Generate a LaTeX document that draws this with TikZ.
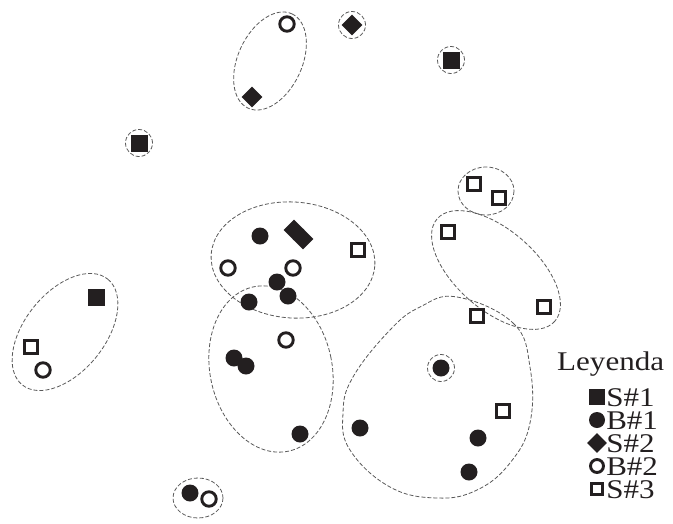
\documentclass[tikz,border=0pt]{standalone}
\usepackage{fontspec}
\setmainfont{Liberation Serif}
\usetikzlibrary{shapes.geometric}
\definecolor{ink}{RGB}{35,31,32}
\tikzset{
  bsq/.style={rectangle, fill=ink, draw=none, minimum size=17pt, inner sep=0pt},
  bci/.style={circle, fill=ink, draw=none, minimum size=17pt, inner sep=0pt},
  dia/.style={diamond, fill=ink, draw=none, minimum size=21pt, inner sep=0pt},
  oci/.style={circle, draw=ink, fill=white, line width=2.9pt, minimum size=14.5pt, inner sep=0pt},
  osq/.style={rectangle, draw=ink, fill=white, line width=2.8pt, minimum size=12.5pt, inner sep=0pt},
  grp/.style={draw=black!65, dashed, dash pattern=on 4pt off 2pt, line width=0.8pt},
  ring/.style={circle, grp, minimum size=27pt, inner sep=0pt},
  lbl/.style={font=\fontsize{27}{23}\selectfont, text=ink, inner sep=0pt, xscale=1.15, transform shape},
  lbls/.style={font=\fontsize{20}{17}\selectfont, text=ink, inner sep=0pt, xscale=1.55, yscale=1.35, transform shape}
}
\begin{document}
\begin{tikzpicture}[x=1pt, y=-1pt]
\useasboundingbox (0,0) rectangle (673,523);
% group outlines
\draw[grp] (270,61) ellipse[x radius=52, y radius=32, rotate=65];
\draw[grp] (486,191) ellipse[x radius=28, y radius=24];
\draw[grp] (496,270) ellipse[x radius=78, y radius=40, rotate=-41];
\draw[grp] (293,260) ellipse[x radius=82, y radius=58, rotate=-4];
\draw[grp] (271,369) ellipse[x radius=61, y radius=84, rotate=12];
\draw[grp] (65,332) ellipse[x radius=68, y radius=40, rotate=51];
\draw[grp] (198,498) ellipse[x radius=25, y radius=20];
\draw[grp] plot[smooth cycle, tension=0.7] coordinates {(457,297) (513,323) (530,367) (530,423) (510,463) (477,490) (437,498) (390,487) (350,450) (343,413) (353,377) (390,330) (420,307)};
% singletons with rings
\node[ring] (r1) at (352,25) {};
\node[dia] (d1) at (352,25) {};
\node[ring] (r2) at (451,60) {};
\node[bsq] (s1) at (451,60) {};
\node[ring] (r3) at (139,143) {};
\node[bsq] (s2) at (139,143) {};
\node[ring] (r4) at (441,368) {};
\node[bci] (c1) at (441,368) {};
% top ellipse
\node[oci] (o1) at (287,24) {};
\node[dia] (d2) at (252,97) {};
% top right squares
\node[osq] (q1) at (474,184) {};
\node[osq] (q2) at (499,198) {};
\node[osq] (q3) at (448,232) {};
\node[osq] (q4) at (544,307) {};
\node[osq] (q5) at (477,316) {};
% center cluster
\node[bci] (c2) at (260,236) {};
\node[dia] (d3) at (294,230) {};
\node[dia] (d4) at (303,239) {};
\node[osq] (q6) at (358,250) {};
\node[oci] (o2) at (228,268) {};
\node[oci] (o3) at (293,268) {};
\node[bci] (c3) at (277,282) {};
\node[bci] (c4) at (288,296) {};
\node[bci] (c5) at (249,302) {};
% lower left cluster
\node[oci] (o4) at (286,340) {};
\node[bci] (c6) at (234,358) {};
\node[bci] (c7) at (246,366) {};
\node[bci] (c8) at (300,434) {};
% big right cluster
\node[bci] (c9) at (360,428) {};
\node[osq] (q7) at (503,411) {};
\node[bci] (c10) at (478,438) {};
\node[bci] (c11) at (469,472) {};
% left cluster
\node[bsq] (s3) at (96,297) {};
\node[osq] (q8) at (31,347) {};
\node[oci] (o5) at (43,370) {};
% bottom pair
\node[bci] (c12) at (190,493) {};
\node[oci] (o6) at (209,499) {};
% legend
\node[lbl, anchor=base west] (leg) at (557,370) {Leyenda};
\node[bsq, minimum size=16pt] (lm1) at (597,397) {};
\node[bci, minimum size=16pt] (lm2) at (597,420) {};
\node[dia, minimum size=20pt] (lm3) at (597,443) {};
\node[oci, minimum size=13pt] (lm4) at (597,466) {};
\node[osq, minimum size=11pt] (lm5) at (597,489) {};
\node[lbls, anchor=base west] (lt1) at (606,406) {S\#1};
\node[lbls, anchor=base west] (lt2) at (606,429) {B\#1};
\node[lbls, anchor=base west] (lt3) at (606,452) {S\#2};
\node[lbls, anchor=base west] (lt4) at (606,475) {B\#2};
\node[lbls, anchor=base west] (lt5) at (606,498) {S\#3};
\end{tikzpicture}
\end{document}
